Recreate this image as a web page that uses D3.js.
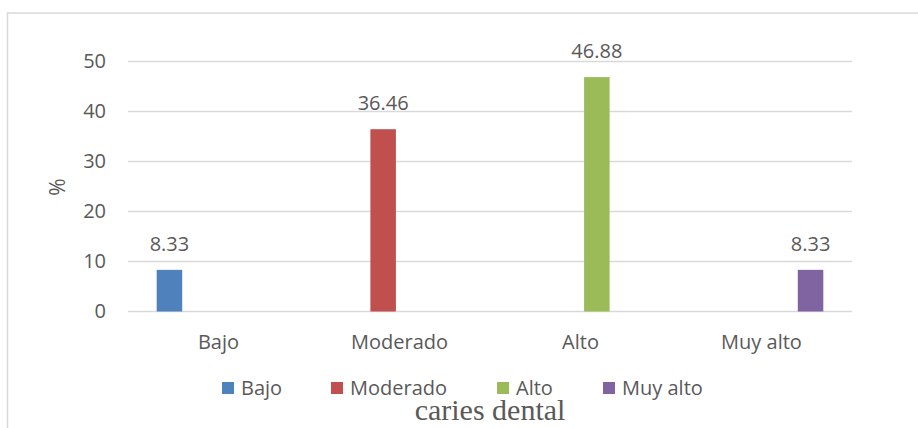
<!DOCTYPE html>
<html><head><meta charset="utf-8">
<script src="https://cdn.jsdelivr.net/npm/d3@7"></script>
<style>body{margin:0;background:#fff}svg{display:block}</style>
</head><body>
<svg id="c" width="918" height="428"></svg>
<script>
const categories = ["Bajo","Moderado","Alto","Muy alto"];
const seriesNames = ["Bajo","Moderado","Alto","Muy alto"];
const seriesColors = ["#4f81bd","#c0504d","#9bbb59","#8064a2"];
// values[series][category]; only the matching category has a value
const valuesBajo = [8.33, null, null, null];
const valuesModerado = [null, 36.46, null, null];
const valuesAlto = [null, null, 46.88, null];
const valuesMuyAlto = [null, null, null, 8.33];
const yTicks = [0,10,20,30,40,50];
const yTitle = "%";
const xTitle = "caries dental";

const seriesValues = [valuesBajo, valuesModerado, valuesAlto, valuesMuyAlto];
const svg = d3.select("#c");
const font = "'Open Sans', sans-serif";
const txt = "#595959";

svg.append("rect").attr("x",7.5).attr("y",13).attr("width",940).attr("height",440)
  .attr("fill","none").attr("stroke","#d9d9d9").attr("stroke-width",1.5);

const left=128, right=852, y0=311.5, y50=61.5;
const x = d3.scaleBand().domain(categories).range([left,right]);
const y = d3.scaleLinear().domain([0,50]).range([y0,y50]);
const bw = x.bandwidth();
const groupW = bw*0.683;
const xs = d3.scaleBand().domain(seriesNames).range([0,groupW]).paddingInner(0.22);
const gOff = (bw-groupW)/2;

// gridlines
svg.append("g").selectAll("line").data(yTicks).join("line")
  .attr("x1",left).attr("x2",right).attr("y1",d=>y(d)).attr("y2",d=>y(d))
  .attr("stroke","#d9d9d9").attr("stroke-width",1.3);

// y tick labels via axis
const yAxis = svg.append("g").attr("transform",`translate(${left},0)`)
  .call(d3.axisLeft(y).tickValues(yTicks).tickSize(0).tickPadding(22).tickFormat(d3.format("d")));
yAxis.select(".domain").remove();
yAxis.selectAll("text").attr("font-family",font).attr("font-size",20).attr("fill",txt);

// x axis labels
const xAxis = svg.append("g").attr("transform",`translate(0,${y0})`)
  .call(d3.axisBottom(x).tickSize(0).tickPadding(23));
xAxis.select(".domain").remove();
xAxis.selectAll("text").attr("font-family",font).attr("font-size",20).attr("fill",txt);

// bars
seriesNames.forEach((s,si)=>{
  const data = categories.map((c,ci)=>({c, v: seriesValues[si][ci]})).filter(d=>d.v!=null);
  const g = svg.append("g");
  g.selectAll("rect").data(data).join("rect")
    .attr("x",d=>x(d.c)+gOff+xs(s)).attr("width",xs.bandwidth())
    .attr("y",d=>y(d.v)).attr("height",d=>y0-y(d.v))
    .attr("fill",seriesColors[si]);
  g.selectAll("text").data(data).join("text")
    .attr("x",d=>x(d.c)+gOff+xs(s)+xs.bandwidth()/2).attr("y",d=>y(d.v)-19)
    .attr("text-anchor","middle").attr("font-family",font).attr("font-size",20).attr("fill",txt)
    .text(d=>d.v.toFixed(2));
});

// y title
svg.append("text").attr("transform","translate(65,187) rotate(-90)")
  .attr("text-anchor","middle").attr("font-family",font).attr("font-size",21).attr("fill",txt).text(yTitle);

// legend
const legX = [222,331,497,603];
const leg = svg.append("g");
seriesNames.forEach((s,i)=>{
  leg.append("rect").attr("x",legX[i]).attr("y",382).attr("width",12).attr("height",12).attr("fill",seriesColors[i]);
  leg.append("text").attr("x",legX[i]+19).attr("y",395).attr("font-family",font).attr("font-size",20).attr("fill",txt).text(s);
});

// x title
svg.append("text").attr("x",490).attr("y",420).attr("text-anchor","middle")
  .attr("font-family","'Liberation Serif','Times New Roman',serif").attr("font-size",30).attr("fill",txt).text(xTitle);
</script>
</body></html>
